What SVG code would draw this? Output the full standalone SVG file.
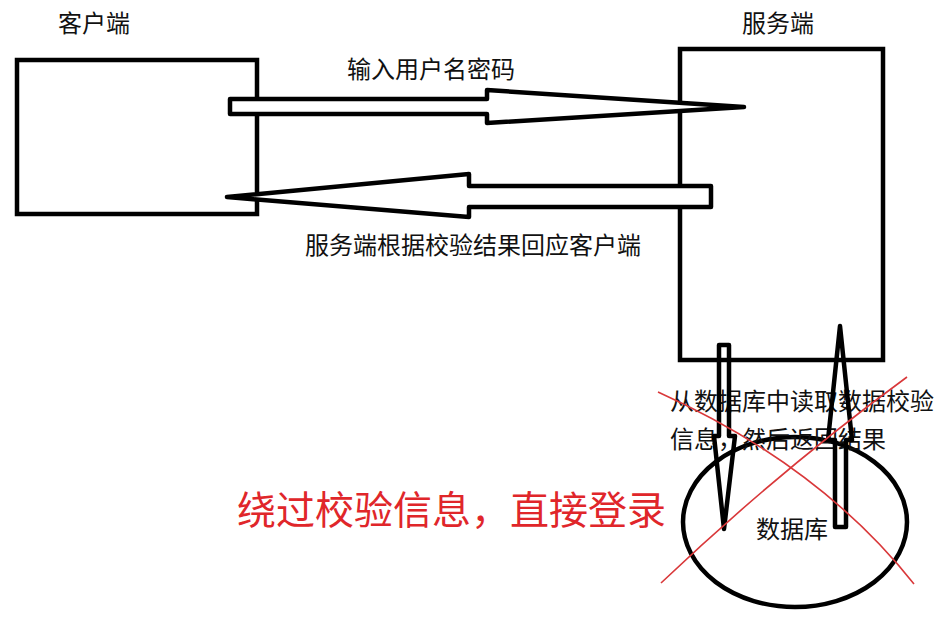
<svg xmlns="http://www.w3.org/2000/svg" width="943" height="621" viewBox="0 0 943 621">
<style>
.box{fill:none;stroke:#000;stroke-width:4.5}
.arr{fill:#fff;stroke:#000;stroke-width:4.5;stroke-linejoin:round}
.varr{fill:none;stroke:#000;stroke-width:4.5;stroke-linejoin:round}
.t{font-family:"Noto Sans CJK SC","Noto Sans",sans-serif;font-size:24px;fill:#111}
.red{font-family:"Noto Sans CJK SC","Noto Sans",sans-serif;font-size:39px;fill:#e0262a}
.x{fill:none;stroke:#d9383a;stroke-width:1.6}
</style>
<rect width="943" height="621" fill="#fff"/>
<g id="client">
<rect class="box" x="17" y="60" width="240" height="154"/>
<text class="t" x="58" y="32">客户端</text>
</g>
<g id="server">
<rect class="box" x="680" y="49" width="203" height="311"/>
<text class="t" x="742" y="32">服务端</text>
</g>
<g id="database">
<ellipse class="box" cx="795" cy="522" rx="112" ry="85"/>
<text class="t" x="756" y="538">数据库</text>
</g>
<text class="t" x="670" y="410">从数据库中读取数据校验</text>
<text class="t" x="670" y="448">信息，然后返回结果</text>
<g id="connectors">
<path class="arr" d="M230,99 L487,99 L487,90 L744,107 L487,123 L487,114 L230,114 Z"/>
<text class="t" x="347" y="78">输入用户名密码</text>
<path class="arr" d="M711,186 L469,186 L469,174 L227,197 L469,217 L469,207 L711,207 Z"/>
<text class="t" x="305" y="254">服务端根据校验结果回应客户端</text>
<path class="varr" d="M719,345 L729,345 L729,436 L735,436 L724,529 L714,436 L719,436 Z"/>
<path class="varr" d="M840,326 L852,440 L846,440 L846,527 L835,527 L835,440 L828,440 Z"/>
</g>
<g id="cross">
<path class="x" d="M658,392 Q820,465 914,584"/>
<path class="x" d="M907,377 Q780,470 661,583"/>
</g>
<text class="red" x="237" y="524">绕过校验信息，直接登录</text>
</svg>
